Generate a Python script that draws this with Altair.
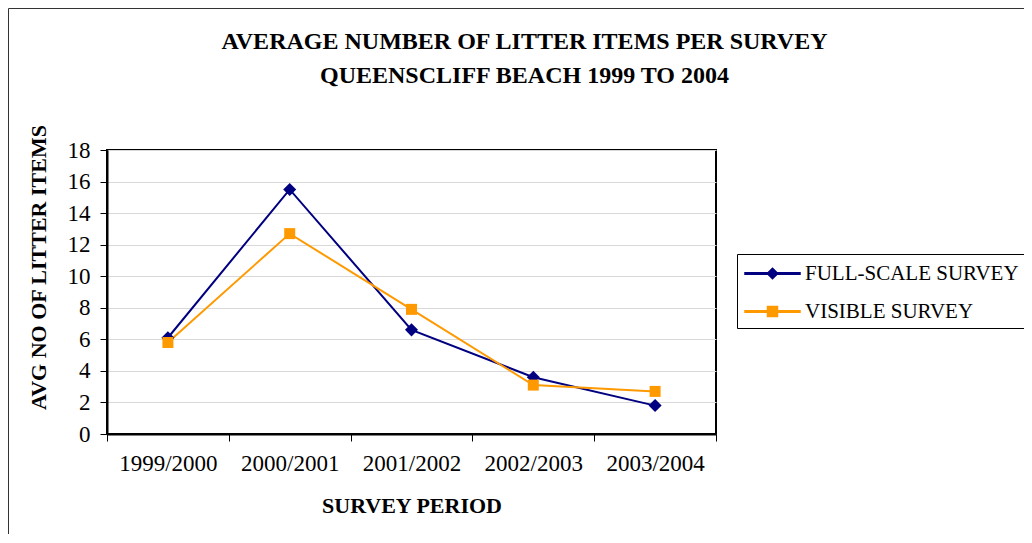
import pandas as pd
import altair as alt

# Values
periods = ["1999/2000", "2000/2001", "2001/2002", "2002/2003", "2003/2004"]
full_scale = [6.1, 15.5, 6.6, 3.6, 1.8]
visible = [5.8, 12.7, 7.9, 3.1, 2.7]
series = ["FULL-SCALE SURVEY", "VISIBLE SURVEY"]
colors = ["#000080", "#FF9900"]
y_ticks = [0, 2, 4, 6, 8, 10, 12, 14, 16, 18]

df = pd.concat([
    pd.DataFrame({"period": periods, "value": full_scale, "series": series[0]}),
    pd.DataFrame({"period": periods, "value": visible, "series": series[1]}),
])

FONT = "Liberation Serif"

# Excel-style legend keys: a line with the marker on it
diamond_key = "M-2.2,-0.065H2.2V0.065H-2.2Z M0,-0.42L0.42,0L0,0.42L-0.42,0Z"
square_key = "M-2.2,-0.065H2.2V0.065H-2.2Z M-0.4,-0.4H0.4V0.4H-0.4Z"

x_enc = alt.X("period:N", sort=periods, title="SURVEY PERIOD",
              scale=alt.Scale(paddingInner=0, paddingOuter=0),
              axis=alt.Axis(labelAngle=0, tickBand="extent", tickSize=7,
                            labelPadding=11, titleY=71, titleBaseline="middle",
                            grid=False))
y_enc = alt.Y("value:Q", title="AVG NO OF LITTER ITEMS",
              scale=alt.Scale(domain=[0, 18], nice=False),
              axis=alt.Axis(values=y_ticks, tickSize=7, labelPadding=10,
                            titleX=-69, titleY=117, titleAngle=270,
                            titleAlign="center", titleBaseline="middle"))
color_scale = alt.Scale(domain=series, range=colors)

base = alt.Chart(df)

legend = alt.Legend(title=None, orient="none", legendX=630, legendY=104,
                    symbolSize=625, symbolOffset=16, labelOffset=19,
                    symbolOpacity=1, padding=6, rowPadding=14,
                    strokeColor="black", fillColor="white", labelFont=FONT,
                    labelFontSize=21, labelColor="black", labelLimit=400)

# transparent layer that only carries the legend (must come first so its legend wins the merge)
legend_layer = base.mark_point(filled=True, opacity=0).encode(
    x=x_enc, y=y_enc,
    color=alt.Color("series:N", scale=color_scale, legend=legend),
    shape=alt.Shape("series:N", scale=alt.Scale(domain=series, range=[diamond_key, square_key]),
                    legend=legend),
)

lines = base.mark_line(strokeWidth=2).encode(
    x=x_enc, y=y_enc,
    color=alt.Color("series:N", scale=color_scale, legend=None),
)

diamonds = base.transform_filter(alt.datum.series == series[0]).mark_point(
    shape="diamond", filled=True, size=170, opacity=1
).encode(x=x_enc, y=y_enc, color=alt.Color("series:N", scale=color_scale, legend=None))

squares = base.transform_filter(alt.datum.series == series[1]).mark_point(
    shape="square", filled=True, size=121, opacity=1
).encode(x=x_enc, y=y_enc, color=alt.Color("series:N", scale=color_scale, legend=None))

# outer chart-area frame
frame = alt.Chart(pd.DataFrame({"a": [0]})).mark_rect(
    fillOpacity=0, stroke="#333333", strokeWidth=1
).encode(x=alt.value(-98.5), x2=alt.value(2000), y=alt.value(-141.5), y2=alt.value(1000))

chart = alt.layer(frame, legend_layer, lines, diamonds, squares).properties(
    width=609, height=284,
    title=alt.Title(["AVERAGE NUMBER OF LITTER ITEMS PER SURVEY",
                     "QUEENSCLIFF BEACH 1999 TO 2004"],
                    font=FONT, fontSize=24, fontWeight="bold", color="black",
                    anchor="middle", dx=113, lineHeight=34, offset=-80),
    autosize=alt.AutoSizeParams(type="none"),
    padding={"left": 99, "top": 142, "right": 308, "bottom": 100},
).configure_view(
    stroke="black", strokeWidth=2
).configure_axis(
    labelFont=FONT, labelFontSize=23, labelColor="black",
    titleFont=FONT, titleFontSize=22, titleFontWeight="bold", titleColor="black",
    tickColor="black", domainColor="black", domainWidth=2, gridColor="#d9d9d9",
    gridWidth=1
)

chart.save("out.html", embed_options={"renderer": "svg", "actions": False})
